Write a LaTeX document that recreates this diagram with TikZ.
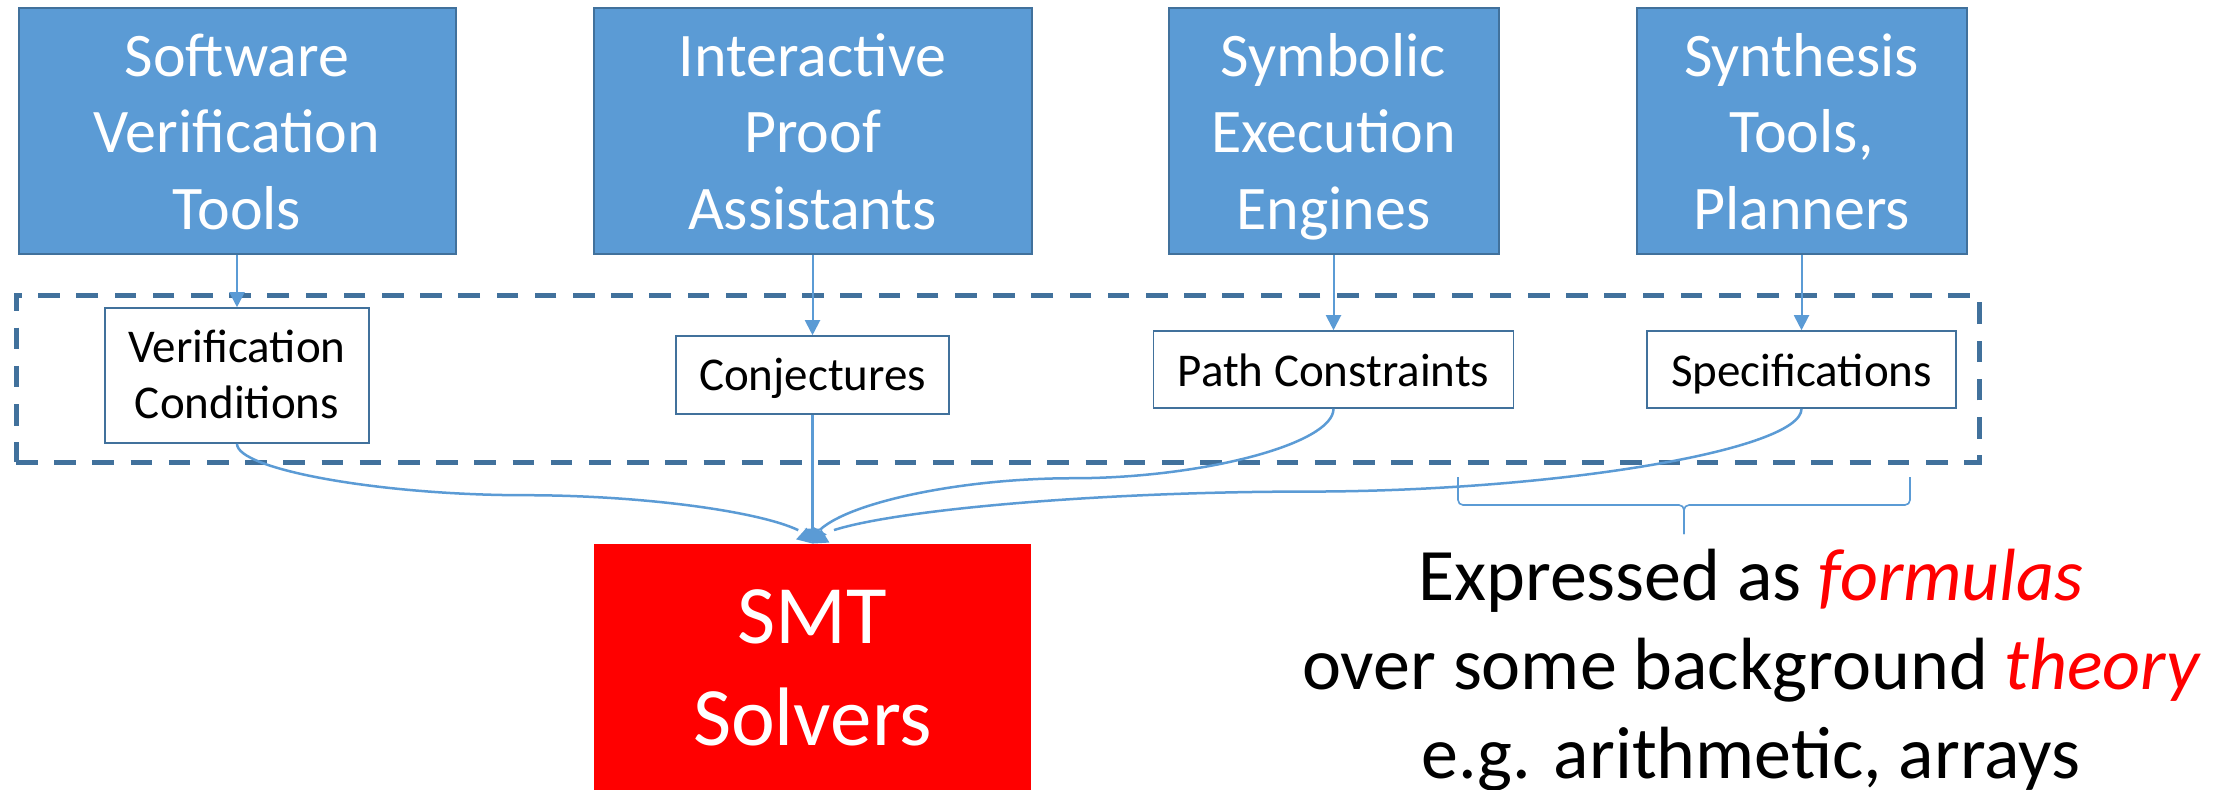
\documentclass[tikz,border=0pt]{standalone}
\usepackage{fontspec}
\setmainfont{Carlito}
\usetikzlibrary{arrows.meta,bending,calc}

\definecolor{boxblue}{HTML}{5B9BD5}
\definecolor{edgeblue}{HTML}{41719C}
\definecolor{alertred}{HTML}{FF0000}

\newcommand{\redit}[1]{{\color{alertred}\itshape #1}}

\tikzset{
  toolbox/.style={draw=edgeblue, line width=1pt, fill=boxblue, inner sep=0pt,
    minimum height=123pt},
  itembox/.style={draw=edgeblue, line width=0.8pt, fill=white, inner sep=0pt},
  solverbox/.style={fill=alertred, inner sep=0pt},
  % multi-line labels are placed by the baseline of their last line
  tooltext/.style={anchor=base, align=center, text=white, inner sep=0pt,
    font=\fontsize{31}{38.25}\selectfont},
  itemtext/.style={anchor=base, align=center, inner sep=0pt,
    font=\fontsize{23.5}{28}\selectfont},
  solvertext/.style={anchor=base, align=center, text=white, inner sep=0pt,
    font=\fontsize{41.5}{51}\selectfont},
  notetext/.style={anchor=base, align=center, inner sep=0pt,
    font=\fontsize{37}{44.5}\selectfont},
  groupframe/.style={draw=edgeblue, line width=2.5pt, dash pattern=on 10.8pt off 8.3pt,
    inner sep=0pt},
  feed/.style={draw=boxblue, line width=1pt, -{Triangle[width=7.5pt,length=7.5pt]}},
  merge/.style={draw=boxblue, line width=1.25pt, -{Triangle[width=7.5pt,length=7.5pt]}},
  braceline/.style={draw=boxblue, line width=0.8pt, rounded corners=2.5pt},
  % S-shaped connector: leaves downward, runs level at a fraction #1 of the drop,
  % then turns down into the target
  elbow/.style={to path={
    let \p1=(\tikztostart), \p2=(\tikztotarget) in
    .. controls (\x1,{\y1+0.5*#1*(\y2-(\y1))})
            and ({0.75*\x1+0.25*\x2},{\y1+#1*(\y2-(\y1))})
    .. ({0.5*\x1+0.5*\x2},{\y1+#1*(\y2-(\y1))})
    .. controls ({0.25*\x1+0.75*\x2},{\y1+#1*(\y2-(\y1))})
            and (\x2,{\y1+(0.5+0.5*#1)*(\y2-(\y1))})
    .. (\tikztotarget)}},
}

\begin{document}
\begin{tikzpicture}[x=0.5pt, y=-0.5pt]
  \fill[white] (0,0) rectangle (2232,789);
  \useasboundingbox (0,0) rectangle (2232,789);

  % dashed group around the intermediate artefacts
  \node[groupframe, minimum width=981.5pt, minimum height=83.5pt] (group) at (997.5,378.5) {};

  % tools
  \node[toolbox, minimum width=218.5pt] (sv) at (237,131) {};
  \node[toolbox, minimum width=219pt]   (ip) at (812.5,131) {};
  \node[toolbox, minimum width=165pt]   (se) at (1333.5,131) {};
  \node[toolbox, minimum width=165pt]   (sy) at (1801.5,131) {};

  \node[tooltext] (sv-t) at (237,229)    {Software\\Verification\\Tools};
  \node[tooltext] (ip-t) at (812.5,229)  {Interactive\\Proof\\Assistants};
  \node[tooltext] (se-t) at (1333.5,229) {Symbolic\\Execution\\Engines};
  \node[tooltext] (sy-t) at (1801.5,229) {Synthesis\\Tools,\\Planners};

  % what each tool produces
  \node[itembox, minimum width=132pt,   minimum height=67.5pt] (vc)   at (237,375.5) {};
  \node[itembox, minimum width=136.5pt, minimum height=39pt]   (conj) at (812.5,375) {};
  \node[itembox, minimum width=180pt,   minimum height=38.5pt] (pc)   at (1333.5,369.5) {};
  \node[itembox, minimum width=154.5pt, minimum height=38.5pt] (spec) at (1801.5,369.5) {};

  \node[itemtext] (vc-t)   at (237,418)    {Verification\\Conditions};
  \node[itemtext] (conj-t) at (812.5,390)  {Conjectures};
  \node[itemtext] (pc-t)   at (1333.5,386) {Path Constraints};
  \node[itemtext] (spec-t) at (1801.5,386) {Specifications};

  % solver
  \node[solverbox, minimum width=218.5pt, minimum height=150pt] (smt) at (812.5,694) {};
  \node[solvertext] (smt-t) at (812.5,745) {SMT\\Solvers};

  % tool -> artefact
  \draw[feed] (sv.south) -- (vc.north);
  \draw[feed] (ip.south) -- (conj.north);
  \draw[feed] (se.south) -- (pc.north);
  \draw[feed] (sy.south) -- (spec.north);

  % artefact -> solver
  \draw[merge] (conj.south) -- (smt.north);
  \draw[merge] (vc.south)   to[elbow=0.515] (smt.north);
  \draw[merge] (pc.south)   to[elbow=0.515] (smt.north);
  \draw[merge] (spec.south) to[elbow=0.614] (smt.north);

  % brace under the last two artefacts
  \draw[braceline] (1458,477) -- (1458,505) -- (1684,505) -- (1684,534);
  \draw[braceline] (1910,477) -- (1910,505) -- (1684,505) -- (1684,534);

  \node[notetext] (note) at (1751,778)
    {Expressed as \redit{formulas}\\over some background \redit{theory}\\e.g. arithmetic, arrays};
\end{tikzpicture}
\end{document}
